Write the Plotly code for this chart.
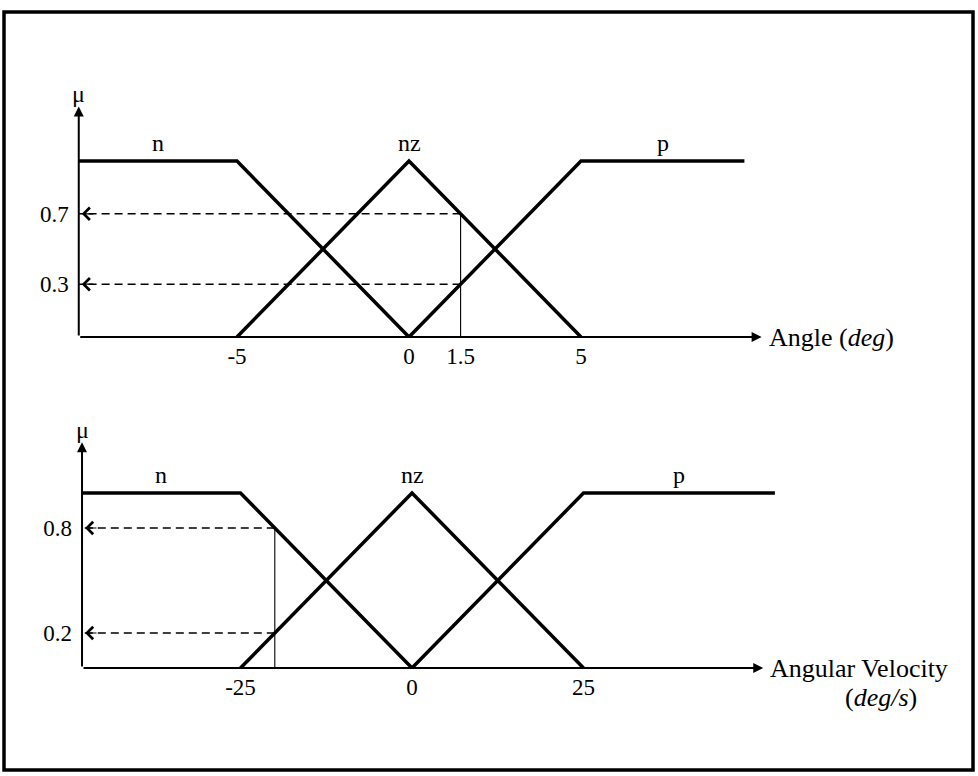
import plotly.graph_objects as go

# ------------------------------------------------------------------ data
# Angle (deg) membership functions
angle_n_x = [-9.6, -5, 0]
angle_n_mu = [1, 1, 0]
angle_nz_x = [-5, 0, 5]
angle_nz_mu = [0, 1, 0]
angle_p_x = [0, 5, 9.75]
angle_p_mu = [0, 1, 1]
angle_ticks = [-5, 0, 1.5, 5]
angle_tick_text = ["-5", "0", "1.5", "5"]
angle_input = 1.5
angle_degrees = [0.7, 0.3]
angle_degree_text = ["0.7", "0.3"]
angle_axis_start = -9.6
angle_axis_end = 10.25
angle_mu_axis_end = 1.31

# Angular velocity (deg/s) membership functions
vel_n_x = [-48.1, -25, 0]
vel_n_mu = [1, 1, 0]
vel_nz_x = [-25, 0, 25]
vel_nz_mu = [0, 1, 0]
vel_p_x = [0, 25, 52.9]
vel_p_mu = [0, 1, 1]
vel_ticks = [-25, 0, 25]
vel_tick_text = ["-25", "0", "25"]
vel_input = -20
vel_degrees = [0.8, 0.2]
vel_degree_text = ["0.8", "0.2"]
vel_axis_start = -48.1
vel_axis_end = 51.2
vel_mu_axis_end = 1.29

set_names = ["n", "nz", "p"]

# ------------------------------------------------------------------ layout constants
W, H = 978, 776
FONT = "Liberation Serif, Times New Roman, serif"
BLACK = "#000000"

# pixel anchors of the two panels (origin px, px per unit, mu=0 px, mu=1 px, domain)
TOP = dict(x0=409, sx=34.4, y0=337, y1=161, dom=(40, 392))
BOT = dict(x0=412, sx=6.86, y0=668, y1=493, dom=(402, 762))


def xrange_for(p):
    return [(0 - p["x0"]) / p["sx"], (W - p["x0"]) / p["sx"]]


def yrange_for(p):
    k = p["y0"] - p["y1"]
    return [(p["y0"] - p["dom"][1]) / k, (p["y0"] - p["dom"][0]) / k]


def ydomain_for(p):
    return [1 - p["dom"][1] / H, 1 - p["dom"][0] / H]


fig = go.Figure()


def add_panel(xa, ya, sets, ticks, tick_text, x_in, degs, deg_text,
              ax_start, ax_end, mu_end, title_lines, p):
    xr = "x" if xa == "xaxis" else "x2"
    yr = "y" if ya == "yaxis" else "y2"
    # membership functions
    for (xs, ms) in sets:
        fig.add_trace(go.Scatter(x=xs, y=ms, mode="lines", xaxis=xr, yaxis=yr,
                                 line=dict(color=BLACK, width=3.5),
                                 hoverinfo="skip"))
    # vertical input line
    fig.add_trace(go.Scatter(x=[x_in, x_in], y=[0, max(degs)], mode="lines",
                             xaxis=xr, yaxis=yr,
                             line=dict(color=BLACK, width=1.1), hoverinfo="skip"))
    # dashed projection lines
    for d in degs:
        fig.add_trace(go.Scatter(x=[x_in, ax_start], y=[d, d], mode="lines",
                                 xaxis=xr, yaxis=yr,
                                 line=dict(color=BLACK, width=1.5, dash="8px,5px"),
                                 hoverinfo="skip"))
        fig.add_annotation(x=ax_start, y=d, xref=xr, yref=yr, ax=16, ay=0,
                           showarrow=True, arrowhead=4, arrowsize=2.0,
                           arrowwidth=1.2, arrowcolor=BLACK, standoff=3, text="")
    # x axis arrow
    fig.add_annotation(x=ax_end, y=0, ax=ax_start, ay=0, xref=xr, yref=yr,
                       axref=xr, ayref=yr, showarrow=True, arrowhead=2,
                       arrowsize=1.0, arrowwidth=2, arrowcolor=BLACK, text="")
    # mu axis arrow
    fig.add_annotation(x=ax_start, y=mu_end, ax=ax_start, ay=0, xref=xr, yref=yr,
                       axref=xr, ayref=yr, showarrow=True, arrowhead=2,
                       arrowsize=1.0, arrowwidth=2, arrowcolor=BLACK, text="")
    fig.add_annotation(x=ax_start, y=mu_end, xref=xr, yref=yr, text="μ",
                       showarrow=False, yanchor="bottom", xanchor="center",
                       yshift=-3, font=dict(family=FONT, size=24, color=BLACK))
    # set labels
    (nx, _), (zx, _), (px, _) = sets
    label_x = [(nx[0] + nx[1]) / 2, zx[1], (px[1] + px[2]) / 2]
    for name, lx in zip(set_names, label_x):
        fig.add_annotation(x=lx, y=1, xref=xr, yref=yr, text=name, showarrow=False,
                           yanchor="bottom", yshift=3,
                           font=dict(family=FONT, size=24, color=BLACK))
    # axis title
    fig.add_annotation(x=ax_end, y=0, xref=xr, yref=yr, text=title_lines[0],
                       showarrow=False, xanchor="left", yanchor="middle", xshift=5,
                       font=dict(family=FONT, size=26, color=BLACK))
    if len(title_lines) > 1:
        fig.add_annotation(x=ax_end, y=0, xref=xr, yref=yr, text=title_lines[1],
                           showarrow=False, xanchor="center", yanchor="middle",
                           xshift=118, yshift=-29,
                           font=dict(family=FONT, size=26, color=BLACK))

    fig.layout[xa] = dict(domain=[0, 1], range=xrange_for(p), anchor="free",
                          position=1 - p["y0"] / H, showgrid=False,
                          zeroline=False, showline=False, ticks="",
                          tickmode="array", tickvals=ticks, ticktext=tick_text,
                          ticklabelstandoff=3,
                          tickfont=dict(family=FONT, size=23, color=BLACK),
                          fixedrange=True)
    fig.layout[ya] = dict(domain=ydomain_for(p), range=yrange_for(p), anchor="free",
                          position=(p["x0"] + ax_start * p["sx"]) / W,
                          showgrid=False, zeroline=False, showline=False, ticks="",
                          tickmode="array", tickvals=degs, ticktext=deg_text,
                          ticklabelstandoff=10,
                          tickfont=dict(family=FONT, size=23, color=BLACK),
                          fixedrange=True)


add_panel("xaxis", "yaxis",
          [(angle_n_x, angle_n_mu), (angle_nz_x, angle_nz_mu), (angle_p_x, angle_p_mu)],
          angle_ticks, angle_tick_text, angle_input, angle_degrees, angle_degree_text,
          angle_axis_start, angle_axis_end, angle_mu_axis_end,
          ["Angle (<i>deg</i>)"], TOP)

add_panel("xaxis2", "yaxis2",
          [(vel_n_x, vel_n_mu), (vel_nz_x, vel_nz_mu), (vel_p_x, vel_p_mu)],
          vel_ticks, vel_tick_text, vel_input, vel_degrees, vel_degree_text,
          vel_axis_start, vel_axis_end, vel_mu_axis_end,
          ["Angular Velocity", "(<i>deg/s</i>)"], BOT)

# outer frame
fig.add_shape(type="rect", xref="paper", yref="paper",
              x0=4 / W, x1=973 / W, y0=1 - 770 / H, y1=1 - 12 / H,
              line=dict(color=BLACK, width=3.5))

fig.update_layout(width=W, height=H, autosize=False,
                  margin=dict(l=0, r=0, t=0, b=0, pad=0),
                  paper_bgcolor="white", plot_bgcolor="white",
                  showlegend=False)

fig.write_html(
    "out.html",
    config={"displayModeBar": False},
    post_script="document.body.style.margin='0';document.body.style.padding='0';"
                "document.documentElement.style.overflow='hidden';",
)
